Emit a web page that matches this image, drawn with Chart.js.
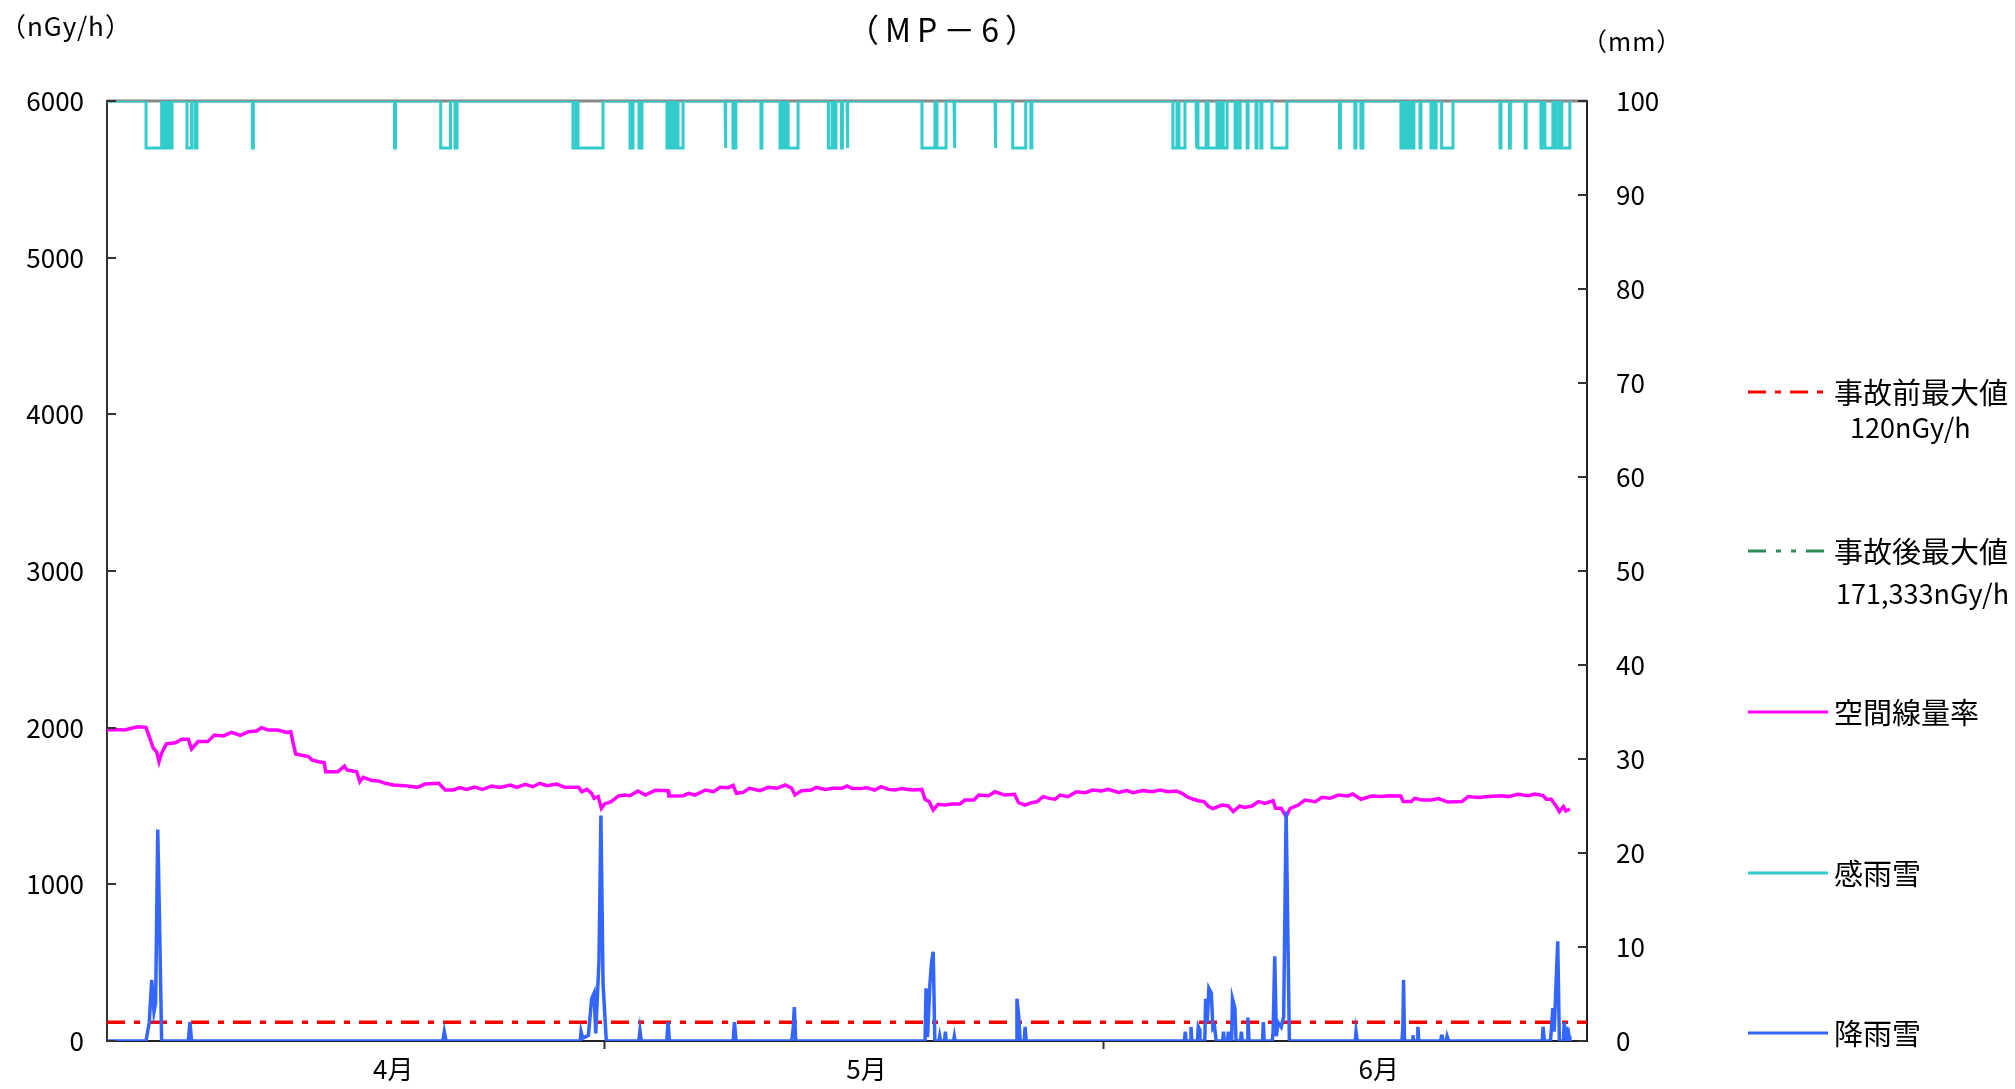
<!DOCTYPE html>
<html lang="ja">
<head>
<meta charset="utf-8">
<title>MP-6</title>
<script src="https://cdn.jsdelivr.net/npm/chart.js@4.4.1/dist/chart.umd.min.js"></script>
<style>
  body { margin: 0; background: #fff; }
  #wrap { position: relative; width: 2015px; height: 1089px; font-family: "Noto Sans CJK JP", sans-serif; color: #000; }
  #chart { position: absolute; left: 0; top: 0; }
  .txt { position: absolute; white-space: nowrap; line-height: 1; }
  .legend-line { position: absolute; }
</style>
</head>
<body>
<div id="wrap">
  <canvas id="chart" width="2015" height="1089"></canvas>
  <div class="txt" style="left:470px;width:950px;top:12px;text-align:center;font-size:32px;letter-spacing:6px;">（MP－6）</div>
  <div class="txt" style="left:0px;top:12px;font-size:26px;letter-spacing:1px;">（nGy/h）</div>
  <div class="txt" style="left:1582px;top:28px;font-size:25px;letter-spacing:1px;">（mm）</div>
  <div id="legend"></div>
</div>
<script>
// 軸の範囲（日数、4月1日 = 0）
const xMin = 0;
const xMax = 91;

// 月の区切り目盛りと月ラベルの位置（日）
const monthTickDays = [30.6, 61.3];
const monthLabelDays = [17.6, 46.7, 78.2];
const monthLabels = ['4月', '5月', '6月'];

// 基準値 (nGy/h)
const preAccidentMax = 120;
const postAccidentMax = 171333;

// 空間線量率 (nGy/h)
const doseDays = [
  0, 0.5, 1.1, 1.5, 1.9, 2.4, 2.6, 2.85, 3.05, 3.2, 3.35, 3.65, 4.2, 4.6, 5.0, 5.2, 5.6, 6.2, 6.6, 7.15,
  7.65, 8.2, 8.7, 9.2, 9.5, 9.9, 10.5, 11.05, 11.3, 11.45, 11.6, 12.2, 12.4, 12.6, 13.0, 13.35, 13.45, 14.2, 14.6, 14.75,
  15.35, 15.55, 15.75, 16.3, 16.7, 17.1, 17.6, 18.3, 19.1, 19.55, 20.4, 20.8, 21.3, 21.7, 22.1, 22.6,
  23.1, 23.65, 24.15, 24.8, 25.2, 25.7, 26.2, 26.6, 27.05, 27.65, 28.15, 29.0, 29.2, 29.5, 29.8, 29.95, 30.2, 30.4, 30.6, 31.0,
  31.45, 31.85, 32.15, 32.65, 33.1, 33.7, 34.5, 34.55, 35.45, 35.75, 36.15, 36.8, 37.3, 37.7, 38.2, 38.5, 38.7, 39.1, 39.5, 40.15,
  40.65, 41.2, 41.7, 42.1, 42.3, 42.7, 43.3, 43.6, 44.15, 44.65, 45.2, 45.5,
  45.8, 46.3, 46.7, 47.2, 47.6, 48.05, 48.45, 48.85, 49.5, 50.1, 50.3, 50.55, 50.8, 51.1, 51.5, 51.95, 52.45, 52.75, 53.3, 53.6,
  54.2, 54.6, 55.2, 55.8, 56.05, 56.45, 56.85, 57.2, 57.55, 58.0, 58.3, 58.6, 59.1, 59.6, 60.15, 60.6, 61.15, 61.55, 62.2, 62.7,
  63.1, 63.7, 64.25, 64.75, 65.25, 65.75, 66.1, 66.4, 66.8, 67.1, 67.45, 67.7, 68.0,
  68.55, 68.95, 69.25, 69.65, 69.95, 70.4, 70.8, 71.2, 71.7, 71.85, 72.2, 72.5, 72.75, 73.25, 73.65, 74.3, 74.7, 75.2, 75.7, 76.3,
  76.6, 77.1, 77.75, 78.4, 78.8, 79.55, 79.7, 80.2, 80.4, 80.85, 81.45, 81.85, 82.45, 83.3, 83.7, 84.3, 84.95, 85.75, 86.15, 86.75,
  87.4, 87.8, 88.3, 88.5, 88.8, 89.1, 89.3, 89.55, 89.7, 89.95
];
const doseRates = [
  1985, 1989, 1985, 1996, 2006, 2002, 1943, 1868, 1847, 1783, 1836, 1896, 1904, 1926, 1926, 1864, 1911, 1911, 1953, 1947,
  1970, 1951, 1974, 1979, 2000, 1985, 1985, 1970, 1974, 1900, 1832, 1819, 1815, 1794, 1783, 1777, 1719, 1719, 1755, 1730,
  1719, 1655, 1683, 1662, 1660, 1645, 1634, 1630, 1619, 1640, 1645, 1602, 1602, 1617, 1606, 1621,
  1606, 1628, 1619, 1634, 1619, 1638, 1623, 1645, 1630, 1640, 1619, 1619, 1591, 1606, 1581, 1549, 1560, 1485, 1513, 1528,
  1564, 1570, 1566, 1596, 1570, 1600, 1598, 1564, 1566, 1581, 1570, 1602, 1591, 1619, 1617, 1632, 1581, 1587, 1613, 1598,
  1619, 1613, 1634, 1613, 1570, 1598, 1602, 1619, 1606, 1613, 1613, 1628,
  1613, 1611, 1617, 1602, 1623, 1606, 1602, 1611, 1602, 1606, 1543, 1528, 1474, 1511, 1506, 1513, 1513, 1538, 1538, 1570,
  1566, 1591, 1570, 1575, 1521, 1506, 1521, 1528, 1560, 1547, 1543, 1570, 1560, 1591, 1585, 1602, 1596, 1606, 1587, 1598,
  1585, 1598, 1591, 1602, 1591, 1596, 1581, 1560, 1543, 1534, 1528, 1500, 1483,
  1506, 1500, 1464, 1500, 1491, 1500, 1528, 1517, 1534, 1485, 1485, 1432, 1485, 1506, 1538, 1528, 1555, 1549, 1570, 1564,
  1577, 1543, 1564, 1560, 1566, 1564, 1528, 1528, 1549, 1538, 1538, 1547, 1525, 1528, 1560, 1555, 1560, 1566, 1560, 1575,
  1566, 1577, 1566, 1543, 1543, 1500, 1464, 1496, 1468, 1481
];

// 降雨雪 (mm)
const rainDays = [
  0, 2.4, 2.48, 2.6, 2.75, 2.89, 2.99, 3.12, 3.22, 3.36,
  5.0, 5.1, 5.2, 20.65, 20.74, 20.85,
  29.1, 29.15, 29.25, 29.6, 29.8, 29.95, 30.05, 30.25, 30.37, 30.5, 30.7,
  32.7, 32.77, 32.85, 34.42, 34.5, 34.58, 38.5, 38.58, 38.68, 42.1, 42.2, 42.26, 42.35,
  50.3, 50.36, 50.45, 50.6, 50.7, 50.8, 50.9, 51.15, 51.2, 51.25, 51.5, 51.55, 51.6, 52.05, 52.1, 52.15,
  55.9, 55.95, 56.05, 56.15, 56.4, 56.45, 56.52,
  66.25, 66.3, 66.35, 66.6, 66.65, 66.7, 67.05, 67.1, 67.15, 67.2, 67.5, 67.55, 67.65, 67.75, 67.9, 68.0, 68.1, 68.2,
  68.6, 68.65, 68.7, 68.9, 68.95, 69.0, 69.15, 69.2, 69.35, 69.42, 69.7, 69.75, 69.8, 70.1, 70.15, 70.22,
  71.05, 71.1, 71.15, 71.65, 71.7, 71.8, 71.9, 72.0, 72.2, 72.35, 72.5, 72.7,
  76.75, 76.8, 76.88, 79.62, 79.68, 79.72, 79.78, 80.25, 80.3, 80.35, 80.55, 80.6, 80.66,
  82.0, 82.05, 82.1, 82.15, 82.35, 82.4, 82.45, 82.5,
  88.25, 88.3, 88.38, 88.75, 88.8, 88.9, 88.98, 89.2, 89.3, 89.55, 89.6, 89.68, 89.75, 89.85, 89.9, 89.95
];
const rainMm = [
  0, 0, 0.8, 2.0, 6.5, 3.1, 4.0, 22.5, 13.6, 0,
  0, 2.0, 0, 0, 1.0, 0,
  0, 1.0, 0.3, 0.6, 4.5, 5.1, 0.8, 8.5, 24.0, 6.1, 0,
  0, 1.1, 0, 0, 2.0, 0, 0, 2.0, 0, 0, 1.5, 3.6, 0,
  0, 5.6, 0.4, 6.1, 8.4, 9.5, 0, 0, 0.5, 0, 0, 1.0, 0, 0, 0.5, 0,
  0, 4.5, 2.8, 0, 0, 1.5, 0,
  0, 1.0, 0, 0, 1.5, 0, 0, 1.5, 1.3, 0, 0, 4.5, 2.0, 5.6, 5.1, 1.3, 1.5, 0,
  0, 1.0, 0, 0, 1.0, 0, 0, 4.5, 3.5, 0, 0, 1.0, 0, 0, 2.5, 0,
  0, 2.0, 0, 0, 1.0, 9.0, 0.5, 2.0, 1.5, 2.6, 24.4, 0,
  0, 1.0, 0, 0, 1.5, 6.5, 0, 0, 0.6, 0, 0, 1.5, 0,
  0, 0.5, 0.5, 0, 0, 0.5, 0.5, 0,
  0, 1.5, 0, 0, 1.0, 3.5, 1.0, 10.6, 0, 0, 2.0, 0, 1.5, 0, 0.5, 0
];

// 感雨雪（感雨した期間、日）
const senseStart = [
  2.40, 3.50, 3.69, 3.94, 4.92, 5.41, 8.94, 17.68, 20.52, 21.40, 28.65, 28.96, 32.16, 32.71,
  34.43, 34.62, 34.87, 35.11, 38.00, 38.49, 40.21, 41.38, 41.57, 41.88, 44.36, 44.76, 45.16, 45.50,
  50.11, 51.03, 52.08, 54.60, 55.69, 56.81,
  65.54, 65.91, 66.96, 67.08, 67.70, 68.38, 68.63, 69.36, 69.48, 70.10, 70.65, 70.95, 71.63,
  75.78, 76.73, 77.10, 79.56, 79.75, 79.93, 80.12, 80.30, 80.73, 81.41, 81.66, 82.06,
  85.65, 86.23, 87.20, 88.17, 88.29, 88.41, 89.02, 89.27, 89.45
];
const senseEnd = [
  3.36, 3.57, 3.81, 4.00, 5.20, 5.53, 9.00, 17.74, 21.12, 21.52, 28.84, 30.50, 32.34, 32.89,
  34.56, 34.80, 35.05, 35.42, 38.06, 38.67, 40.27, 41.51, 41.75, 42.49, 44.58, 44.82, 45.22, 45.56,
  50.91, 51.59, 52.14, 54.66, 56.49, 56.87,
  65.79, 66.28, 67.02, 67.58, 68.25, 68.50, 68.87, 69.42, 69.67, 70.16, 70.71, 71.01, 72.55,
  75.84, 76.79, 77.22, 79.62, 79.81, 79.99, 80.18, 80.36, 80.79, 81.47, 81.72, 82.76,
  85.71, 86.29, 87.26, 88.23, 88.35, 88.90, 89.08, 89.33, 89.94
];
const senseOff = 100;
const senseOn = 95;
const senseLastDay = 89.95;

// 感雨雪の折れ線データ
const senseData = [{ x: xMin, y: senseOff }];
senseStart.forEach((s, i) => {
  senseData.push({ x: s, y: senseOff }, { x: s, y: senseOn }, { x: senseEnd[i], y: senseOn }, { x: senseEnd[i], y: senseOff });
});
senseData.push({ x: senseLastDay, y: senseOff });

const legendNotes = ['120nGy/h', '171,333nGy/h', '', '', ''];

// 軸の内向き目盛りと上枠
const frameTicks = {
  id: 'frameTicks',
  beforeDatasetsDraw(chart) {
    const { ctx, chartArea } = chart;
    ctx.save();
    ctx.strokeStyle = '#888';
    ctx.lineWidth = 3;
    ctx.beginPath();
    ctx.moveTo(chartArea.left, chartArea.top);
    ctx.lineTo(chartArea.right, chartArea.top);
    ctx.stroke();
    ctx.restore();
  },
  afterDraw(chart) {
    const { ctx, chartArea, scales } = chart;
    ctx.save();
    ctx.strokeStyle = '#333';
    ctx.lineWidth = 2;
    scales.y.ticks.forEach(t => {
      const py = Math.round(scales.y.getPixelForValue(t.value));
      ctx.beginPath();
      ctx.moveTo(chartArea.left, py);
      ctx.lineTo(chartArea.left + 9, py);
      ctx.stroke();
    });
    scales.y1.ticks.forEach(t => {
      const py = Math.round(scales.y1.getPixelForValue(t.value));
      ctx.beginPath();
      ctx.moveTo(chartArea.right - 9, py);
      ctx.lineTo(chartArea.right, py);
      ctx.stroke();
    });
    ctx.restore();
  }
};

const tickFont = { family: '"Noto Sans CJK JP", sans-serif', size: 26 };

const ctx = document.getElementById('chart').getContext('2d');
const chart = new Chart(ctx, {
  type: 'line',
  data: {
    datasets: [
      {
        label: '事故前最大値',
        data: [{ x: xMin, y: preAccidentMax }, { x: xMax, y: preAccidentMax }],
        yAxisID: 'y',
        borderColor: '#ff0000',
        borderWidth: 3.5,
        borderDash: [18, 9, 6, 9],
        order: 3
      },
      {
        label: '事故後最大値',
        data: [{ x: xMin, y: postAccidentMax }, { x: xMax, y: postAccidentMax }],
        yAxisID: 'y',
        borderColor: '#2e8b57',
        borderWidth: 3.5,
        borderDash: [18, 10, 5, 10, 5, 10],
        order: 4
      },
      {
        label: '空間線量率',
        data: doseDays.map((d, i) => ({ x: d, y: doseRates[i] })),
        yAxisID: 'y',
        borderColor: '#ff00ff',
        borderWidth: 3.5,
        order: 2
      },
      {
        label: '感雨雪',
        data: senseData,
        yAxisID: 'y1',
        borderColor: '#33cccc',
        borderWidth: 3,
        order: 1
      },
      {
        label: '降雨雪',
        data: rainDays.map((d, i) => ({ x: d, y: rainMm[i] })),
        yAxisID: 'y1',
        borderColor: '#3366ff',
        borderWidth: 3.5,
        order: 0
      }
    ]
  },
  options: {
    responsive: false,
    animation: false,
    devicePixelRatio: 1,
    layout: { padding: { top: 101, left: 0, right: 0, bottom: 0 } },
    elements: {
      point: { radius: 0 },
      line: { tension: 0, fill: false }
    },
    plugins: {
      legend: { display: false },
      tooltip: { enabled: false },
      title: { display: false }
    },
    scales: {
      x: {
        type: 'linear',
        min: xMin,
        max: xMax,
        afterBuildTicks: scale => {
          scale.ticks = monthTickDays.concat(monthLabelDays).sort((a, b) => a - b).map(v => ({ value: v }));
        },
        afterFit: scale => { scale.height = 48; },
        ticks: {
          autoSkip: false,
          maxRotation: 0,
          padding: 5,
          color: '#000',
          font: tickFont,
          callback: value => {
            const i = monthLabelDays.indexOf(value);
            return i >= 0 ? monthLabels[i] : '';
          }
        },
        grid: {
          drawOnChartArea: false,
          tickLength: 8,
          tickWidth: 2,
          tickColor: c => (c.tick && monthTickDays.includes(c.tick.value)) ? '#333' : 'rgba(0,0,0,0)'
        },
        border: { display: true, color: '#222', width: 2 }
      },
      y: {
        position: 'left',
        min: 0,
        max: 6000,
        afterFit: scale => { scale.width = 107; },
        ticks: {
          stepSize: 1000,
          padding: 23,
          color: '#000',
          font: tickFont,
          callback: value => String(value)
        },
        grid: { display: true, drawOnChartArea: false, drawTicks: false },
        border: { display: true, color: '#333', width: 2 }
      },
      y1: {
        position: 'right',
        min: 0,
        max: 100,
        afterFit: scale => { scale.width = 428; },
        ticks: {
          stepSize: 10,
          padding: 29,
          color: '#000',
          font: tickFont,
          callback: value => String(value)
        },
        grid: { display: true, drawOnChartArea: false, drawTicks: false },
        border: { display: true, color: '#222', width: 2 }
      }
    }
  },
  plugins: [frameTicks]
});

// 凡例（右側）
const legendY = [392, 551, 712, 873, 1033];
const noteOffset = [35, 42, 0, 0, 0];
const noteLeft = [1850, 1836, 0, 0, 0];
const legendEl = document.getElementById('legend');
chart.data.datasets.forEach((ds, i) => {
  const y = legendY[i];
  const dash = ds.borderDash ? ds.borderDash.join(',') : 'none';
  legendEl.insertAdjacentHTML('beforeend',
    `<svg class="legend-line" style="left:1748px;top:${y - 5}px" width="80" height="10">` +
    `<line x1="0" y1="5" x2="80" y2="5" stroke="${ds.borderColor}" stroke-width="3" stroke-dasharray="${dash}"/></svg>` +
    `<div class="txt" style="left:1834px;top:${y - 15}px;font-size:29px;">${ds.label}</div>`);
  if (legendNotes[i]) {
    legendEl.insertAdjacentHTML('beforeend',
      `<div class="txt" style="left:${noteLeft[i]}px;top:${y + noteOffset[i] - 14}px;font-size:27px;">${legendNotes[i]}</div>`);
  }
});
</script>
</body>
</html>
